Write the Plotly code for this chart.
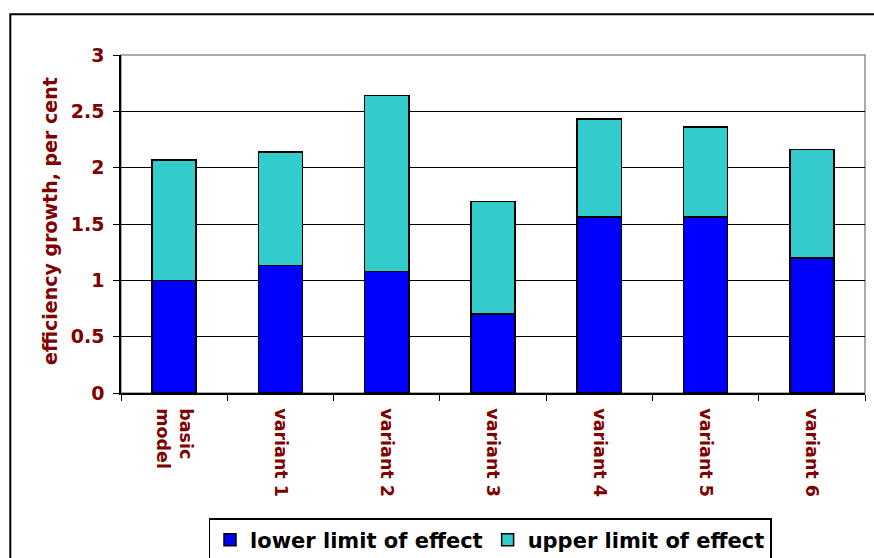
import plotly.graph_objects as go

categories = ["basic<br>model", "variant 1", "variant 2", "variant 3",
              "variant 4", "variant 5", "variant 6"]
lower_limit = [1.00, 1.13, 1.08, 0.70, 1.56, 1.56, 1.20]
upper_limit = [1.07, 1.01, 1.56, 1.00, 0.87, 0.80, 0.96]
y_ticks = [0, 0.5, 1, 1.5, 2, 2.5, 3]
y_tick_labels = ["0", "0.5", "1", "1.5", "2", "2.5", "3"]

W, H = 874, 558
L, R, T, B = 121, 9, 55, 165
pw, ph = W - L - R, H - T - B

FONT = "DejaVu Sans"
DARK_RED = "#800000"

fig = go.Figure()
fig.add_trace(go.Bar(
    x=categories, y=lower_limit, name="lower limit of effect",
    marker=dict(color="#0000FF", line=dict(color="black", width=1.5)),
))
fig.add_trace(go.Bar(
    x=categories, y=upper_limit, name="upper limit of effect",
    marker=dict(color="#33CCCC", line=dict(color="black", width=1.5)),
))


def px_x(p):
    return (p - L) / pw


def px_y(p):
    return (H - B - p) / ph


fig.update_layout(
    width=W, height=H,
    margin=dict(l=L, r=R, t=T, b=B, autoexpand=False),
    barmode="stack", bargap=0.585,
    paper_bgcolor="white", plot_bgcolor="white",
    font=dict(family=FONT),
    showlegend=True,
    legend=dict(
        orientation="h", traceorder="normal",
        x=px_x(490), xanchor="center",
        y=px_y(518), yanchor="top",
        font=dict(family=FONT, size=21, color="black", weight="bold"),
        bordercolor="black", borderwidth=1.5, bgcolor="white",
        itemwidth=30, tracegroupgap=0,
    ),
    xaxis=dict(
        type="category", tickangle=90,
        tickfont=dict(family=FONT, size=17.5, color=DARK_RED, weight="bold"),
        ticklabelstandoff=10,
        showline=True, linecolor="black", linewidth=1.5,
        ticks="outside", tickson="boundaries", ticklen=6,
        tickcolor="black", tickwidth=1.2,
        showgrid=False, zeroline=False,
    ),
    yaxis=dict(
        range=[0, 3], tickvals=y_ticks, ticktext=y_tick_labels,
        tickfont=dict(family=FONT, size=19, color=DARK_RED, weight="bold"),
        ticklabelstandoff=5,
        showline=True, linecolor="black", linewidth=1.5,
        ticks="outside", ticklen=6, tickcolor="black", tickwidth=1.2,
        showgrid=True, gridcolor="black", gridwidth=1,
        zeroline=False,
    ),
    shapes=[
        # grey plot-area frame (top and right edges show)
        dict(type="rect", xref="paper", yref="paper", x0=0, x1=1, y0=0, y1=1,
             line=dict(color="#909090", width=1.5), layer="below"),
        # outer chart frame
        dict(type="rect", xref="paper", yref="paper",
             x0=px_x(10.3), x1=px_x(W + 20), y0=px_y(H + 20), y1=px_y(14.3),
             line=dict(color="black", width=2), layer="below"),
    ],
    annotations=[
        dict(text="efficiency growth, per cent", textangle=-90,
             xref="paper", yref="paper", x=px_x(50), y=px_y(221),
             xanchor="center", yanchor="middle", showarrow=False,
             font=dict(family=FONT, size=19, color=DARK_RED, weight="bold")),
    ],
)

fig.write_html("out.html")
